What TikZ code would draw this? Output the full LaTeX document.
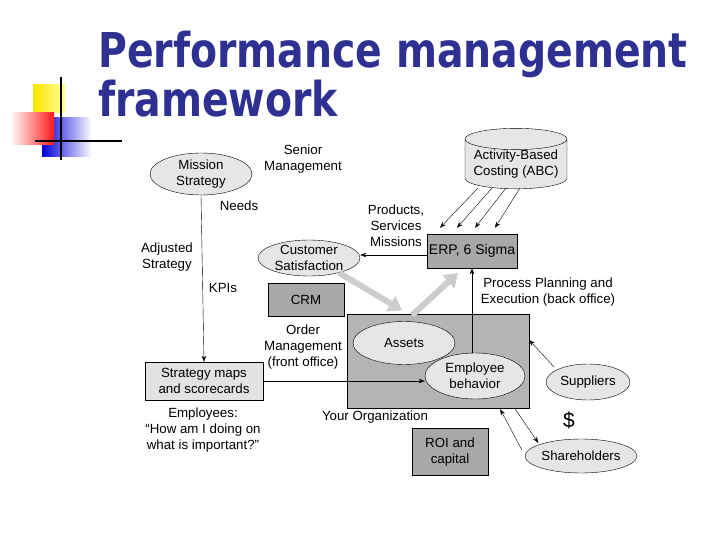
\documentclass[tikz,border=0pt]{standalone}
\usepackage{fontspec}
\setmainfont{Liberation Sans}
\newfontfamily\titlefont[FakeStretch=0.82]{DejaVu Sans}
\usetikzlibrary{shapes.geometric,arrows.meta,positioning,calc}
\definecolor{titleblue}{HTML}{2E3192}
\definecolor{ovalgray}{HTML}{E6E6E6}
\definecolor{boxgray}{HTML}{A8A8A8}
\definecolor{orggray}{HTML}{B4B4B4}
\definecolor{mapgray}{HTML}{E2E2E2}
\definecolor{flowgray}{HTML}{CDCDCD}

\begin{document}
\begin{tikzpicture}[x=1pt, y=-1pt, >={Stealth[length=6pt,width=4.5pt]},
  every node/.style={font=\fontsize{13.3}{16}\selectfont, align=center},
  oval/.style={ellipse, draw, fill=ovalgray, inner sep=0pt},
  darkbox/.style={rectangle, draw, fill=boxgray, inner sep=0pt},
  flow/.style={line width=6pt, draw=flowgray, -{Triangle[length=13pt,width=17pt]}}]
  \useasboundingbox (0,0) rectangle (720,540);
  % logo squares
  \shade[left color=yellow!80!orange, right color=yellow!40] (33,85) rectangle (65,113);
  \shade[left color=blue!85!black, right color=white] (42,118) rectangle (92,157);
  \shade[left color=white, right color=red!90] (10,113) rectangle (54,145);
  \draw[line width=2pt] (61,77) -- (61,160);
  \draw[line width=2pt] (35,141) -- (122,141);
  % title
  \node[anchor=base west, inner sep=0pt, text=titleblue, font=\titlefont\bfseries\fontsize{48}{50}\selectfont] (title1) at (98,68) {Performance management};
  \node[anchor=base west, inner sep=0pt, text=titleblue, font=\titlefont\bfseries\fontsize{48}{50}\selectfont] (title2) at (98,117) {framework};

  % main shapes
  \node[oval, minimum width=102, minimum height=42] (mission) at (201,174) {Mission\\Strategy};
  \node[oval, minimum width=102, minimum height=36] (cust) at (309,258) {Customer\\Satisfaction};
  \node[darkbox, minimum width=76, minimum height=33] (crm) at (306,300) {CRM};
  \node[cylinder, shape border rotate=90, draw, fill=ovalgray, aspect=0.25, minimum width=102, minimum height=58, inner sep=0pt] (abc) at (516,164) {Activity-Based\\Costing (ABC)};
  \node[darkbox, minimum width=90, minimum height=34, font=\fontsize{14}{16}\selectfont] (erp) at (472,251) {ERP, 6 Sigma};
  \node[rectangle, draw, fill=orggray, minimum width=182, minimum height=94] (org) at (438,361) {};
  \node[oval, minimum width=102, minimum height=43] (assets) at (404,343) {Assets};
  \node[oval, minimum width=100, minimum height=46] (empl) at (475,376) {Employee\\behavior};
  \node[rectangle, draw, fill=mapgray, minimum width=118, minimum height=38] (maps) at (204,381) {Strategy maps\\and scorecards};
  \node[oval, minimum width=84, minimum height=36] (suppl) at (588,382) {Suppliers};
  \node[oval, minimum width=102, minimum height=34] (share) at (581,456) {Shareholders};
  \node[darkbox, minimum width=76, minimum height=47] (roi) at (450,452) {ROI and\\capital};

  % labels
  \node (senior) at (303,159) {Senior\\Management};
  \node (needs) at (239,206) {Needs};
  \node (adjusted) at (167,257) {Adjusted\\Strategy};
  \node (kpis) at (223,288) {KPIs};
  \node (products) at (396,226) {Products,\\Services\\Missions};
  \node (process) at (548,292) {Process Planning and\\Execution (back office)};
  \node (order) at (303,347) {Order\\Management\\(front office)};
  \node (yourorg) at (375,417) {Your Organization};
  \node (employees) at (203,430) {Employees:\\``How am I doing on\\what is important?''};
  \node[font=\fontsize{21}{22}\selectfont] (dollar) at (569,420) {\$};

  % connectors
  \draw[->] (mission.south) -- (maps.north);
  \draw[->] (maps.east) -- (empl.west |- maps.east);
  \draw[->] (erp.west |- 0,255) -- (cust.east |- 0,255);
  \draw[->] (empl.north -| erp.south) -- (erp.south);
  \foreach \a/\b in {-38/-32, -24/-15, -10/3, 4/23}
    \draw[->] ($(abc.south)+(\a,-1)$) -- ($(erp.north)+(\b,-6)$);
  \draw[->] ($(suppl.north west)+(-4,-2)$) -- ($(org.east)+(0,-21)$);
  \draw[->] ($(share.west)+(-3,-6)$) -- ($(org.south east)+(-29,1)$);
  \draw[->] ($(org.south east)+(-14,1)$) -- ($(share.north west)+(-3,-1)$);

  % flows through the organization
  \coordinate (erptip) at (458,273);
  \draw[flow] ($(cust.south east)+(-6,2)$) -- ($(assets.north)+(-2,-11)$);
  \draw[flow] ($(assets.north)+(8,-6)$) -- (erptip);
\end{tikzpicture}
\end{document}
